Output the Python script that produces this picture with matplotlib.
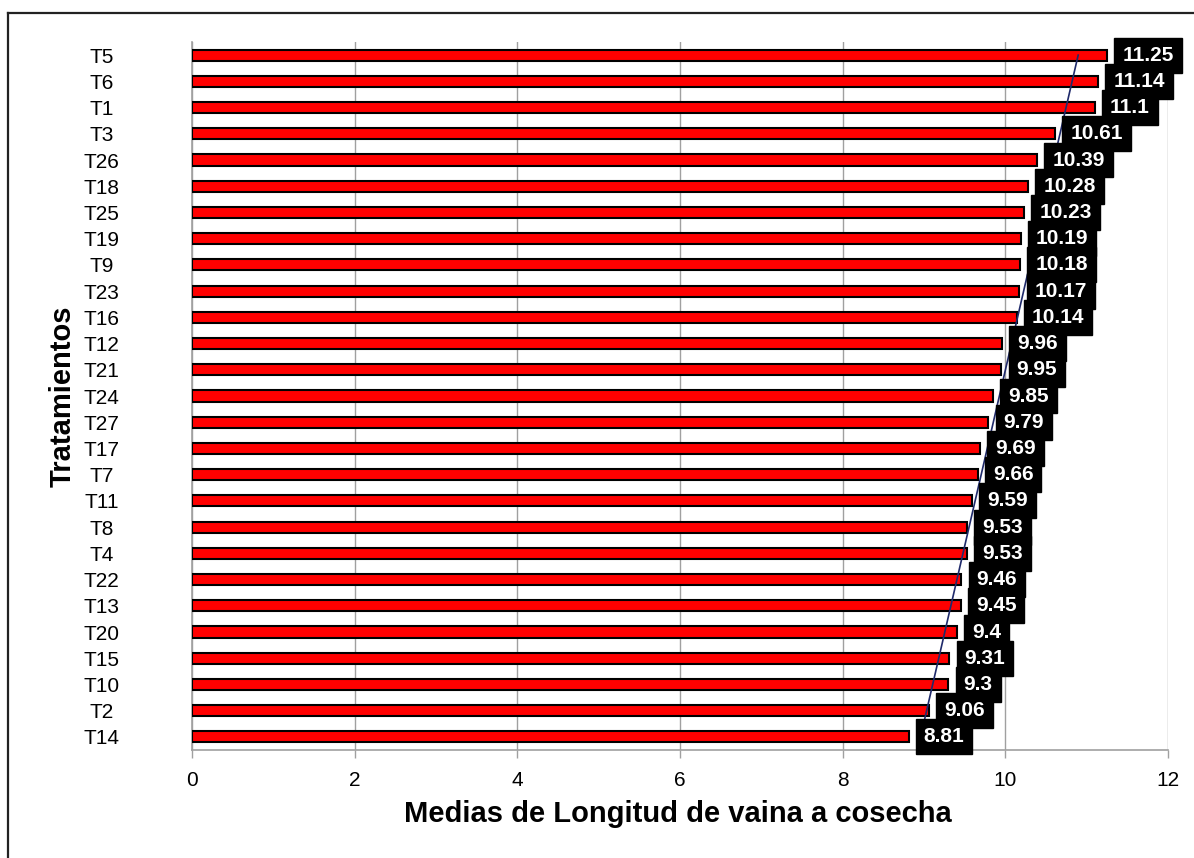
import numpy as np
import matplotlib
matplotlib.use("Agg")
import matplotlib.pyplot as plt
from matplotlib.lines import Line2D

plt.rcParams['font.family'] = ['Liberation Sans', 'DejaVu Sans']

# tratamientos ordenados de mayor a menor (arriba -> abajo)
tratamientos = ['T5', 'T6', 'T1', 'T3', 'T26', 'T18', 'T25', 'T19', 'T9', 'T23',
                'T16', 'T12', 'T21', 'T24', 'T27', 'T17', 'T7', 'T11', 'T8', 'T4',
                'T22', 'T13', 'T20', 'T15', 'T10', 'T2', 'T14']
medias = [11.25, 11.14, 11.1, 10.61, 10.39, 10.28, 10.23, 10.19, 10.18, 10.17,
          10.14, 9.96, 9.95, 9.85, 9.79, 9.69, 9.66, 9.59, 9.53, 9.53,
          9.46, 9.45, 9.4, 9.31, 9.3, 9.06, 8.81]
xticks = [0, 2, 4, 6, 8, 10, 12]

# de abajo hacia arriba para el eje y
labs = tratamientos[::-1]
vals = np.array(medias[::-1])
pos = np.arange(len(vals))

fig = plt.figure(figsize=(11.94, 8.58), dpi=100)
ax = fig.add_axes([192/1194, 108/858, 976/1194, 708/858])

ax.barh(pos, vals, height=0.42, color='#FF0000', edgecolor='black',
        linewidth=1.5, zorder=3)

# linea de tendencia lineal
b, a = np.polyfit(pos, vals, 1)
ax.plot(a + b*pos[[0, -1]], pos[[0, -1]], color='#1F2A6B', lw=1.2, zorder=4)

for p, v in zip(pos[::-1], vals[::-1]):
    ax.annotate(str(v), (v, p), xytext=(11, 0), textcoords='offset points',
                ha='left', va='center', color='white', fontsize=15,
                fontweight='bold', zorder=5,
                bbox=dict(boxstyle='square,pad=0.38', fc='black', ec='black'))

ax.set_xlim(0, 12)
ax.set_ylim(-0.5, len(vals) - 0.5)
ax.set_xticks(xticks)
ax.set_xticklabels([str(t) for t in xticks])
ax.set_yticks(pos)
ax.set_yticklabels(labs)
for t in ax.get_yticklabels():
    t.set_horizontalalignment('center')

ax.tick_params(axis='x', length=6, width=1, color='#A0A0A0', labelsize=15, pad=9)
ax.tick_params(axis='y', length=0, labelsize=15, pad=65)
ax.grid(axis='x', color='#A0A0A0', lw=1, zorder=0)
for s in ['top', 'right']:
    ax.spines[s].set_visible(False)
for s in ['left', 'bottom']:
    ax.spines[s].set_color('#A0A0A0')
    ax.spines[s].set_linewidth(1.2)

ax.set_xlabel('Medias de Longitud de vaina a cosecha', fontsize=21,
              fontweight='bold', va='center')
ax.xaxis.set_label_coords(0.498, -0.090)
ax.set_ylabel('Tratamientos', fontsize=21, fontweight='bold', va='center')
ax.yaxis.set_label_coords(-0.133, 0.5)

# marco exterior
fig.add_artist(Line2D([8/1194, 8/1194], [0, 845/858], color='#222222', lw=1.6))
fig.add_artist(Line2D([8/1194, 1], [845/858, 845/858], color='#222222', lw=1.6))

fig.savefig('out.png', dpi=100)
